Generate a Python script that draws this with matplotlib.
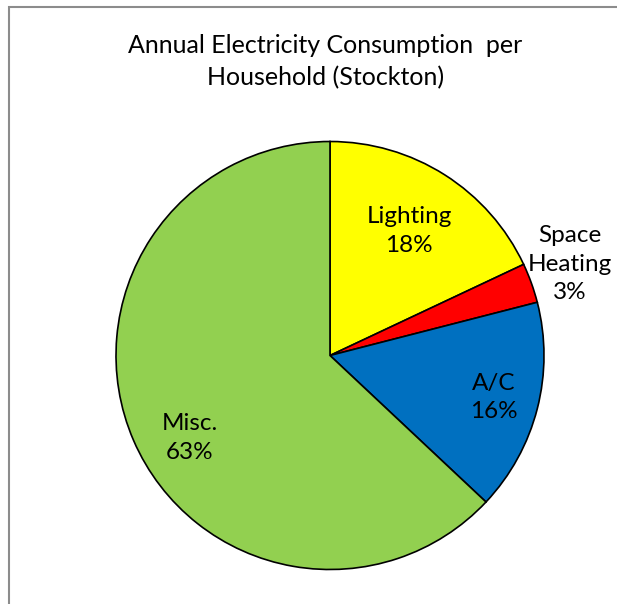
import matplotlib
matplotlib.use("Agg")
import matplotlib.pyplot as plt
from matplotlib.patches import Rectangle
import numpy as np

title = "Annual Electricity Consumption  per\nHousehold (Stockton)"
categories = ["Lighting", "Space\nHeating", "A/C", "Misc."]
values = [18, 3, 16, 63]
colors = ["#FFFF00", "#FF0000", "#0070C0", "#92D050"]
# label placement: (radius fraction, angle tweak in degrees)
label_pos = [(0.69, 0), (1.2, 1), (0.79, 0), (0.76, 7)]

W, H = 617, 604
fig = plt.figure(figsize=(W / 100, H / 100), dpi=100)
ax = fig.add_axes([0, 0, 1, 1])

cx, cy, r = 330, H - 355.5, 214
wedges, _ = ax.pie(values, colors=colors, startangle=90, counterclock=False,
                   center=(cx, cy), radius=r, frame=True,
                   wedgeprops=dict(edgecolor="black", linewidth=1.2))
ax.set_xlim(0, W)
ax.set_ylim(0, H)
ax.set_axis_off()

total = sum(values)
for w, cat, v, (d, tweak) in zip(wedges, categories, values, label_pos):
    ang = np.deg2rad((w.theta1 + w.theta2) / 2 + tweak)
    x = cx + d * r * np.cos(ang)
    y = cy + d * r * np.sin(ang)
    ax.text(x, y, f"{cat}\n{v / total * 100:.0f}%", ha="center", va="center",
            fontsize=17.5, family="Lato", linespacing=1.44, color="black")

ax.text(W / 2 + 17, H - 62, title, ha="center", va="center", fontsize=18,
        family="Lato", linespacing=1.48, color="black")

fig.patches.append(Rectangle((9 / W, -0.1), 2, (H - 7) / H + 0.1,
                             transform=fig.transFigure, fill=False,
                             edgecolor="#8c8c8c", linewidth=1.5))

fig.savefig("out.png", dpi=100)
